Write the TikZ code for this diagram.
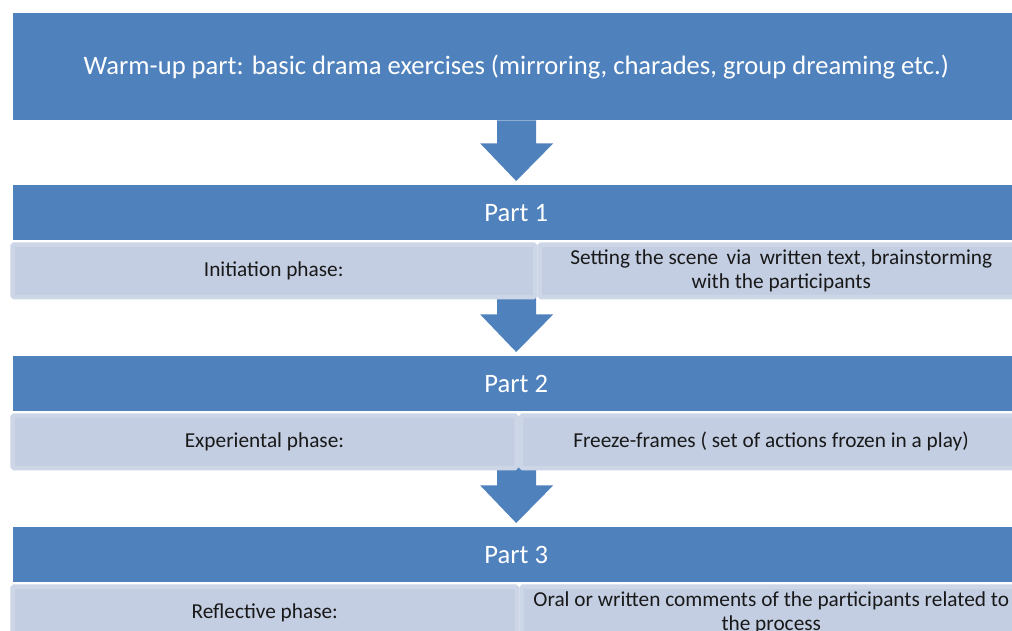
\documentclass[tikz,border=0pt]{standalone}
\usepackage{fontspec}
\setmainfont{Carlito}
\usetikzlibrary{calc}
\definecolor{barblue}{HTML}{4F81BD}
\definecolor{cellfill}{HTML}{C3CEE2}
\definecolor{cellborder}{HTML}{CDD6E7}
\begin{document}
\begin{tikzpicture}[x=1pt,y=-1pt,
  bluebar/.style={fill=barblue, inner sep=0pt, anchor=north west, text=white, font=\fontsize{26.6}{32}\selectfont, align=center},
  cell/.style={fill=cellfill, draw=cellborder, line width=4.5pt, rounded corners=1.5pt, inner sep=0pt, anchor=north west, text=black!90, font=\fontsize{21.3}{24}\selectfont, align=center},
  blockarrow/.style={fill=barblue}]
\useasboundingbox (0,0) rectangle (1012,630);
\clip (0,0) rectangle (1012,630);

% blue bars
\node[bluebar, minimum width=1006pt, minimum height=107pt] (warm) at (13,13) {Warm-up part: basic drama exercises (mirroring, charades, group dreaming etc.)};
\node[bluebar, minimum width=1006pt, minimum height=55pt] (p1) at (13,185) {Part 1};
\node[bluebar, minimum width=1006pt, minimum height=55pt] (p2) at (13,356) {Part 2};
\node[bluebar, minimum width=1006pt, minimum height=55pt] (p3) at (13,527) {Part 3};

% arrows
\fill[blockarrow] ($(warm.south)+(-19,0)$) -- ++(0,23) -- ++(-17,0) -- ($(p1.north)+(0,-4)$) -- ($(warm.south)+(37,23)$) -- ++(-17,0) -- ++(0,-23) -- cycle;
\coordinate (a2) at ($(p1.south)+(0,55)$);
\fill[blockarrow] ($(a2)+(-19,0)$) -- ++(0,19) -- ++(-17,0) -- ($(p2.north)+(0,-4)$) -- ($(a2)+(37,19)$) -- ++(-17,0) -- ++(0,-19) -- cycle;
\coordinate (a3) at ($(p2.south)+(0,55)$);
\fill[blockarrow] ($(a3)+(-19,0)$) -- ++(0,19) -- ++(-17,0) -- ($(p3.north)+(0,-4)$) -- ($(a3)+(37,19)$) -- ++(-17,0) -- ++(0,-19) -- cycle;

% row 1
\node[cell, minimum width=522.5pt, minimum height=52.5pt] (r1l) at (10.25,242.25) {Initiation phase:};
\node[cell, minimum width=483.5pt, minimum height=52.5pt] (r1r) at (537.25,242.25) {Setting the scene\, via\, written text, brainstorming\\with the participants};
% row 2
\node[cell, minimum width=504pt, minimum height=52.5pt] (r2l) at (10.25,413.25) {Experiental phase:};
\node[cell, minimum width=500pt, minimum height=52.5pt] (r2r) at (518.75,413.25) {Freeze-frames ( set of actions frozen in a play)};
% row 3
\node[cell, minimum width=504.5pt, minimum height=52.5pt] (r3l) at (10.25,584.25) {Reflective phase:};
\node[cell, minimum width=499.5pt, minimum height=52.5pt] (r3r) at (519.25,584.25) {Oral or written comments of the participants related to\\the process};
\end{tikzpicture}
\end{document}
